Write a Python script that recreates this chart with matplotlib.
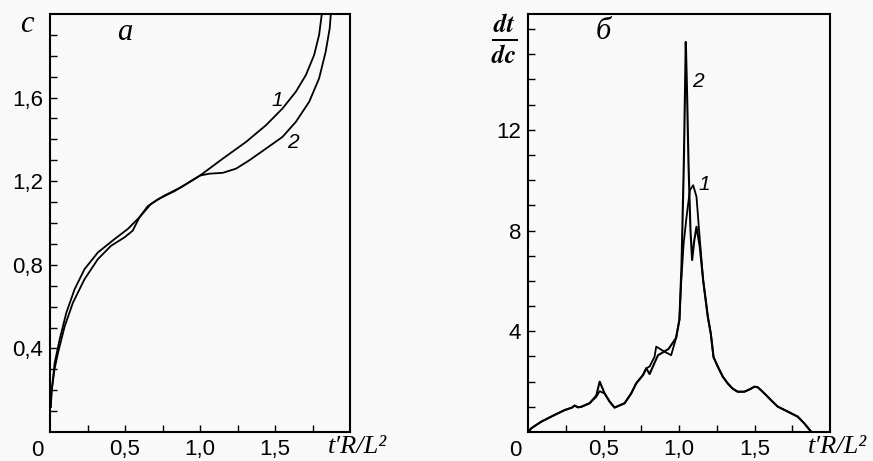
import matplotlib
matplotlib.use("Agg")
import matplotlib.pyplot as plt
from matplotlib.ticker import FixedLocator

plt.rcParams['mathtext.fontset'] = 'stix'

# ---- panel a: c vs t'R/L^2 ----
t_a1 = [0.005, 0.009, 0.031, 0.064, 0.109, 0.164, 0.23, 0.319, 0.43, 0.518, 0.596,
        0.673, 0.762, 0.873, 1.0, 1.152, 1.307, 1.44, 1.55, 1.639, 1.706, 1.761, 1.794, 1.812]
c_a1 = [0.12, 0.186, 0.33, 0.442, 0.571, 0.683, 0.779, 0.859, 0.923, 0.971, 1.027,
        1.091, 1.131, 1.171, 1.227, 1.308, 1.388, 1.468, 1.548, 1.628, 1.708, 1.804, 1.90, 2.0]
t_a2 = [0.005, 0.012, 0.03, 0.053, 0.098, 0.153, 0.23, 0.319, 0.407, 0.496, 0.551, 0.596,
        0.651, 0.718, 0.829, 0.917, 1.0, 1.063, 1.152, 1.24, 1.329, 1.44, 1.55, 1.639,
        1.728, 1.794, 1.838, 1.865, 1.872]
c_a2 = [0.12, 0.2, 0.3, 0.378, 0.506, 0.619, 0.731, 0.827, 0.891, 0.931, 0.963, 1.027,
        1.08, 1.113, 1.152, 1.19, 1.227, 1.236, 1.24, 1.26, 1.30, 1.356, 1.412, 1.484,
        1.58, 1.692, 1.82, 1.933, 2.0]

# ---- panel б: dt/dc vs t'R/L^2 ----
t_b1 = [0, 0.02, 0.086, 0.175, 0.241, 0.29, 0.307, 0.33, 0.351, 0.406, 0.451, 0.473,
        0.506, 0.54, 0.572, 0.638, 0.682, 0.715, 0.76, 0.782, 0.804, 0.837, 0.848, 0.903,
        0.947, 0.98, 1.002, 1.012, 1.03, 1.049, 1.071, 1.093, 1.115, 1.132, 1.159, 1.19,
        1.21, 1.228, 1.256, 1.289, 1.322, 1.355, 1.388, 1.432, 1.47, 1.499, 1.52, 1.543,
        1.587, 1.62, 1.653, 1.72, 1.786, 1.83, 1.875]
y_b1 = [0, 0.15, 0.41, 0.68, 0.87, 0.97, 1.05, 0.98, 1.0, 1.14, 1.40, 1.62,
        1.53, 1.2, 0.97, 1.14, 1.53, 1.93, 2.26, 2.53, 2.6, 2.99, 3.39, 3.19,
        3.05, 3.74, 4.47, 5.8, 7.5, 8.54, 9.6, 9.8, 9.34, 8.02, 6.03, 4.58,
        3.9, 2.97, 2.6, 2.2, 1.93, 1.72, 1.6, 1.6, 1.7, 1.8, 1.78, 1.66,
        1.40, 1.2, 1.01, 0.81, 0.61, 0.34, 0.01]
t_b2 = [0, 0.02, 0.086, 0.175, 0.241, 0.29, 0.307, 0.33, 0.351, 0.406, 0.451, 0.473,
        0.506, 0.54, 0.572, 0.638, 0.682, 0.715, 0.76, 0.782, 0.804, 0.837, 0.86, 0.903,
        0.93, 0.98, 1.002, 1.016, 1.031, 1.04, 1.044, 1.053, 1.062, 1.075, 1.086, 1.1,
        1.115, 1.137, 1.159, 1.19, 1.21, 1.228, 1.256, 1.289, 1.322, 1.355, 1.388, 1.432,
        1.47, 1.499, 1.52, 1.543, 1.587, 1.62, 1.653, 1.72, 1.786, 1.83, 1.875]
y_b2 = [0, 0.15, 0.41, 0.68, 0.87, 0.97, 1.05, 0.98, 1.0, 1.14, 1.45, 2.0,
        1.53, 1.2, 0.97, 1.14, 1.53, 1.93, 2.26, 2.53, 2.3, 2.75, 3.05, 3.2,
        3.3, 3.74, 4.47, 6.69, 10.66, 13.97, 15.49, 13.3, 10.66, 8.02, 6.83, 7.6,
        8.15, 7.35, 6.03, 4.58, 3.9, 2.97, 2.6, 2.2, 1.93, 1.72, 1.6, 1.6,
        1.7, 1.8, 1.78, 1.66, 1.40, 1.2, 1.01, 0.81, 0.61, 0.34, 0.01]

x_major = [0.5, 1.0, 1.5]
x_major_labels = ["0,5", "1,0", "1,5"]
x_minor = [0.25, 0.75, 1.25, 1.75]
ya_major = [0.4, 0.8, 1.2, 1.6]
ya_major_labels = ["0,4", "0,8", "1,2", "1,6"]
ya_minor = [0.1, 0.2, 0.3, 0.5, 0.6, 0.7, 0.9, 1.0, 1.1, 1.3, 1.4, 1.5, 1.7, 1.8, 1.9]
yb_major = [4, 8, 12]
yb_major_labels = ["4", "8", "12"]
yb_minor = [1, 2, 3, 5, 6, 7, 9, 10, 11, 13, 14, 15, 16]

bg = '#f9f9f9'
fig = plt.figure(figsize=(8.73, 4.61), dpi=100, facecolor=bg)
ax1 = fig.add_axes([50/873, 29/461, 300/873, 418/461], facecolor=bg)
ax2 = fig.add_axes([528.3/873, 29/461, 301.7/873, 418/461], facecolor=bg)

tickfont = dict(family='Liberation Sans', size=16)
serif_it = dict(family='Liberation Serif', style='italic')

def style(ax, ymaj, ymaj_lab, ymin, ylim):
    ax.set_xlim(0, 2.0)
    ax.set_ylim(*ylim)
    for s in ax.spines.values():
        s.set_linewidth(1.5)
    ax.set_xticks(x_major)
    ax.set_xticklabels(x_major_labels, fontdict=tickfont)
    ax.xaxis.set_minor_locator(FixedLocator(x_minor))
    ax.set_yticks(ymaj)
    ax.set_yticklabels(ymaj_lab, fontdict=tickfont)
    ax.yaxis.set_minor_locator(FixedLocator(ymin))
    ax.tick_params(which='both', direction='in', length=5, width=1.0,
                   top=False, right=False)
    ax.tick_params(axis='x', which='both', pad=5)
    ax.tick_params(axis='y', which='both', pad=5)
    ax.text(-0.043, -0.044, "0", transform=ax.transAxes, ha='center', va='center',
            fontdict=tickfont)
    ax.text(1.025, -0.036, "t\u2032R/L\u00b2", transform=ax.transAxes, ha='center',
            va='center', fontsize=19, **serif_it)

style(ax1, ya_major, ya_major_labels, ya_minor, (0, 2.0))
style(ax2, yb_major, yb_major_labels, yb_minor, (0, 16.6))

ax1.plot(t_a1, c_a1, color='black', lw=1.3)
ax1.plot(t_a2, c_a2, color='black', lw=1.3)
ax2.plot(t_b1, y_b1, color='black', lw=1.3)
ax2.plot(t_b2, y_b2, color='black', lw=1.5)

ax1.text(-0.078, 0.974, "c", transform=ax1.transAxes, ha='center', va='center',
         fontsize=22, **serif_it)
ax1.text(0.25, 0.955, "а", transform=ax1.transAxes, ha='center', va='center',
         fontsize=22, **serif_it)
ax2.text(0.248, 0.957, "б", transform=ax2.transAxes, ha='center', va='center',
         fontsize=22, **serif_it)
ax2.text(-0.079, 0.94, r"$\frac{\mathbfit{dt}}{\mathbfit{dc}}$", transform=ax2.transAxes,
         ha='center', va='center', fontsize=26)

lblfont = dict(family='Liberation Sans', size=15, style='italic')
ax1.text(277.3/873, 1 - 100/461, "1", transform=fig.transFigure, ha='center',
         va='center', fontdict=lblfont)
ax1.text(292.7/873, 1 - 142/461, "2", transform=fig.transFigure, ha='center',
         va='center', fontdict=lblfont)
ax2.text(698.3/873, 1 - 81.7/461, "2", transform=fig.transFigure, ha='center',
         va='center', fontdict=lblfont)
ax2.text(704/873, 1 - 185/461, "1", transform=fig.transFigure, ha='center',
         va='center', fontdict=lblfont)

fig.savefig("out.png", dpi=100, facecolor=bg)
